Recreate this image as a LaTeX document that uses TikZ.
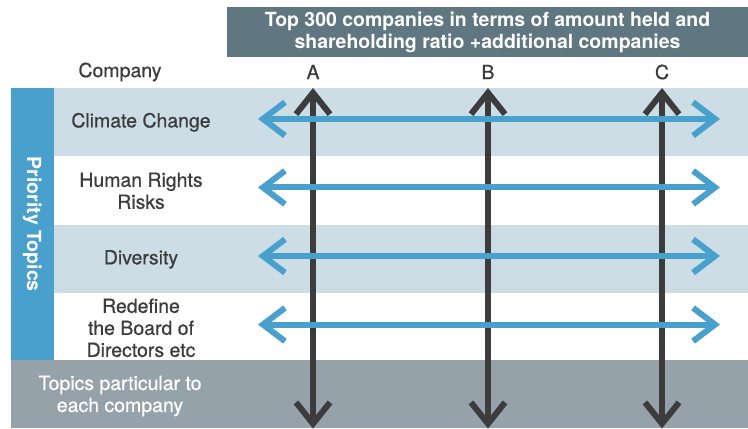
\documentclass[tikz,border=0pt]{standalone}
\usepackage{fontspec}
\setmainfont{TeX Gyre Heros}
\newfontfamily\mediumfont[FakeBold=0.6]{TeX Gyre Heros}
\usetikzlibrary{arrows.meta, positioning}
\definecolor{headgray}{RGB}{96,118,128}
\definecolor{rowblue}{RGB}{204,221,229}
\definecolor{sideblue}{RGB}{73,160,204}
\definecolor{footgray}{RGB}{149,162,169}
\definecolor{arrowblue}{RGB}{72,160,205}
\definecolor{darkline}{RGB}{60,60,60}
\tikzset{
    band/.style={rectangle, inner sep=0pt, minimum width=520.5pt, minimum height=51pt},
    shaded/.style={band, fill=rowblue},
    plain/.style={band, fill=white},
    headbox/.style={rectangle, fill=headgray, text=white, align=center, inner sep=0pt,
        minimum width=390.75pt, minimum height=37.5pt, font=\fontsize{14.6}{16.5}\selectfont\bfseries},
    sidebox/.style={rectangle, fill=sideblue, inner sep=0pt, minimum width=32.25pt, minimum height=204pt},
    footbox/.style={rectangle, fill=footgray, inner sep=0pt, minimum width=552.75pt, minimum height=51pt},
    label/.style={text=darkline, align=center, font=\fontsize{14.6}{16.5}\mediumfont},
    whitelabel/.style={text=white, align=center, font=\fontsize{14.6}{16.5}\mediumfont},
    vline/.style={draw=darkline, line width=4.5pt, >={Straight Barb[length=16pt, width=25.5pt, sharp]}, <->},
    hline/.style={draw=arrowblue, line width=4.5pt, >={Straight Barb[length=16.5pt, width=25pt, sharp]}, <->}
}

\begin{document}
\begin{tikzpicture}[x=0.75pt, y=-0.75pt]
    \useasboundingbox (0,0) rectangle (748,428);

    \node (header) [headbox] at (487.5,32) {Top 300 companies in terms of amount held and\\shareholding ratio +additional companies};
    \node (company) [label] at (120,72) {Company};
    \node (A) [label] at (313,72) {A};
    \node (B) [label] at (488,72) {B};
    \node (C) [label] at (662,72) {C};

    % topic rows
    \node (climate) [shaded, anchor=north west] at (54,88) {};
    \node (rights) [plain, below=0pt of climate] {};
    \node (diversity) [shaded, below=0pt of rights] {};
    \node (board) [plain, below=0pt of diversity] {};
    \node (side) [sidebox, anchor=north east] at (54,88) {};
    \node (priority) [whitelabel, font=\fontsize{14.6}{16.5}\selectfont\bfseries, rotate=-90] at (side.center) {Priority Topics};
    \node (foot) [footbox, anchor=north west] at (11,360) {};

    \node (climatetext) [label] at (141,0 |- climate) {Climate Change};
    \node (rightstext) [label] at (141,0 |- rights) {Human Rights\\Risks};
    \node (diversitytext) [label] at (141,0 |- diversity) {Diversity};
    \node (boardtext) [label] at (141,0 |- board) {Redefine\\the Board of\\Directors etc};
    \node (foottext) [whitelabel] at (120,396) {Topics particular to\\each company};

    \coordinate (left) at (258,0);
    \coordinate (right) at (720,0);

    \foreach \col in {A,B,C}
        \draw [vline] (\col |- climate.north) -- (\col |- foot.south);
    \foreach \row in {climate,rights,diversity,board}
        \draw [hline] ([yshift=2.5pt]left |- \row) -- ([yshift=2.5pt]right |- \row);
\end{tikzpicture}
\end{document}
